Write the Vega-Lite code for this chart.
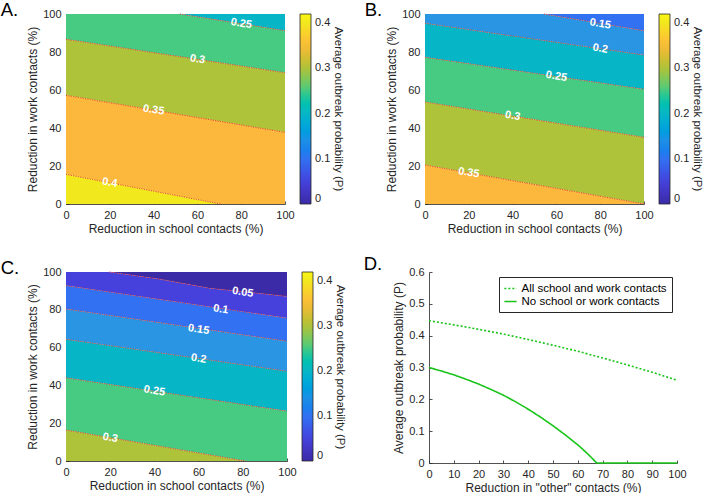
{
  "$schema": "https://vega.github.io/schema/vega-lite/v6.json",
  "padding": {"left": 0, "top": 0, "right": 0, "bottom": 0},
  "config": {
    "font": "Liberation Sans",
    "view": {"stroke": null},
    "axis": {"domainColor": "#262626", "domainWidth": 0.8, "tickColor": "#262626", "tickWidth": 0.8, "tickSize": -3, "labelPadding": 8, "labelColor": "#262626", "titleColor": "#262626", "labelFontSize": 11, "titleFontSize": 12, "titleFontWeight": "normal", "grid": false, "zindex": 1, "titlePadding": 3, "labelOverlap": false, "labelFlush": false, "labelBound": false},
    "title": {"anchor": "start", "frame": "bounds", "fontSize": 18.5, "fontWeight": "normal", "color": "#000000", "offset": 0}
  },
  "datasets": {
    "bands": [
      {"p": "A", "lev": 0.2, "x": 52, "lo": 100, "hi": 100},
      {"p": "A", "lev": 0.2, "x": 100, "lo": 91.2, "hi": 100},
      {"p": "A", "lev": 0.25, "x": 0, "lo": 86.7, "hi": 100},
      {"p": "A", "lev": 0.25, "x": 52, "lo": 77.5, "hi": 100},
      {"p": "A", "lev": 0.25, "x": 100, "lo": 69.1, "hi": 91.2},
      {"p": "A", "lev": 0.3, "x": 0, "lo": 57.2, "hi": 86.7},
      {"p": "A", "lev": 0.3, "x": 100, "lo": 37.7, "hi": 69.1},
      {"p": "A", "lev": 0.35, "x": 0, "lo": 15.6, "hi": 57.2},
      {"p": "A", "lev": 0.35, "x": 70.5, "lo": 0, "hi": 43.5},
      {"p": "A", "lev": 0.35, "x": 100, "lo": 0, "hi": 37.7},
      {"p": "A", "lev": 0.4, "x": 0, "lo": 0, "hi": 15.6},
      {"p": "A", "lev": 0.4, "x": 70.5, "lo": 0, "hi": 0},
      {"p": "B", "lev": 0.1, "x": 54.3, "lo": 100, "hi": 100},
      {"p": "B", "lev": 0.1, "x": 100, "lo": 91.2, "hi": 100},
      {"p": "B", "lev": 0.15, "x": 0, "lo": 95.1, "hi": 100},
      {"p": "B", "lev": 0.15, "x": 54.3, "lo": 86.0, "hi": 100},
      {"p": "B", "lev": 0.15, "x": 100, "lo": 78.4, "hi": 91.2},
      {"p": "B", "lev": 0.2, "x": 0, "lo": 77.2, "hi": 95.1},
      {"p": "B", "lev": 0.2, "x": 100, "lo": 60.4, "hi": 78.4},
      {"p": "B", "lev": 0.25, "x": 0, "lo": 53.7, "hi": 77.2},
      {"p": "B", "lev": 0.25, "x": 100, "lo": 35.1, "hi": 60.4},
      {"p": "B", "lev": 0.3, "x": 0, "lo": 20.5, "hi": 53.7},
      {"p": "B", "lev": 0.3, "x": 100, "lo": 0, "hi": 35.1},
      {"p": "B", "lev": 0.35, "x": 0, "lo": 0, "hi": 20.5},
      {"p": "B", "lev": 0.35, "x": 100, "lo": 0, "hi": 0},
      {"p": "C", "lev": 0, "x": 19.6, "lo": 100, "hi": 100},
      {"p": "C", "lev": 0, "x": 42, "lo": 96.3, "hi": 100},
      {"p": "C", "lev": 0, "x": 65, "lo": 91.4, "hi": 100},
      {"p": "C", "lev": 0, "x": 80, "lo": 89.6, "hi": 100},
      {"p": "C", "lev": 0, "x": 100, "lo": 87.1, "hi": 100},
      {"p": "C", "lev": 0.05, "x": 0, "lo": 92.8, "hi": 100},
      {"p": "C", "lev": 0.05, "x": 19.6, "lo": 89.4, "hi": 100},
      {"p": "C", "lev": 0.05, "x": 42, "lo": 85.6, "hi": 96.3},
      {"p": "C", "lev": 0.05, "x": 65, "lo": 81.6, "hi": 91.4},
      {"p": "C", "lev": 0.05, "x": 80, "lo": 79.0, "hi": 89.6},
      {"p": "C", "lev": 0.05, "x": 100, "lo": 75.6, "hi": 87.1},
      {"p": "C", "lev": 0.1, "x": 0, "lo": 80.4, "hi": 92.8},
      {"p": "C", "lev": 0.1, "x": 100, "lo": 63.4, "hi": 75.6},
      {"p": "C", "lev": 0.15, "x": 0, "lo": 64.4, "hi": 80.4},
      {"p": "C", "lev": 0.15, "x": 100, "lo": 47.5, "hi": 63.4},
      {"p": "C", "lev": 0.2, "x": 0, "lo": 44, "hi": 64.4},
      {"p": "C", "lev": 0.2, "x": 100, "lo": 26.4, "hi": 47.5},
      {"p": "C", "lev": 0.25, "x": 0, "lo": 16.4, "hi": 44},
      {"p": "C", "lev": 0.25, "x": 81, "lo": 0, "hi": 29.7},
      {"p": "C", "lev": 0.25, "x": 100, "lo": 0, "hi": 26.4},
      {"p": "C", "lev": 0.3, "x": 0, "lo": 0, "hi": 16.4},
      {"p": "C", "lev": 0.3, "x": 81, "lo": 0, "hi": 0}
    ],
    "lines": [
      {"p": "A", "lev": 0.25, "x": 52, "y": 100},
      {"p": "A", "lev": 0.25, "x": 100, "y": 91.2},
      {"p": "A", "lev": 0.3, "x": 0, "y": 86.7},
      {"p": "A", "lev": 0.3, "x": 100, "y": 69.1},
      {"p": "A", "lev": 0.35, "x": 0, "y": 57.2},
      {"p": "A", "lev": 0.35, "x": 100, "y": 37.7},
      {"p": "A", "lev": 0.4, "x": 0, "y": 15.6},
      {"p": "A", "lev": 0.4, "x": 70.5, "y": 0},
      {"p": "B", "lev": 0.15, "x": 54.3, "y": 100},
      {"p": "B", "lev": 0.15, "x": 100, "y": 91.2},
      {"p": "B", "lev": 0.2, "x": 0, "y": 95.1},
      {"p": "B", "lev": 0.2, "x": 100, "y": 78.4},
      {"p": "B", "lev": 0.25, "x": 0, "y": 77.2},
      {"p": "B", "lev": 0.25, "x": 100, "y": 60.4},
      {"p": "B", "lev": 0.3, "x": 0, "y": 53.7},
      {"p": "B", "lev": 0.3, "x": 100, "y": 35.1},
      {"p": "B", "lev": 0.35, "x": 0, "y": 20.5},
      {"p": "B", "lev": 0.35, "x": 100, "y": 0},
      {"p": "C", "lev": 0.05, "x": 19.6, "y": 100},
      {"p": "C", "lev": 0.05, "x": 42, "y": 96.3},
      {"p": "C", "lev": 0.05, "x": 65, "y": 91.4},
      {"p": "C", "lev": 0.05, "x": 80, "y": 89.6},
      {"p": "C", "lev": 0.05, "x": 100, "y": 87.1},
      {"p": "C", "lev": 0.1, "x": 0, "y": 92.8},
      {"p": "C", "lev": 0.1, "x": 100, "y": 75.6},
      {"p": "C", "lev": 0.15, "x": 0, "y": 80.4},
      {"p": "C", "lev": 0.15, "x": 100, "y": 63.4},
      {"p": "C", "lev": 0.2, "x": 0, "y": 64.4},
      {"p": "C", "lev": 0.2, "x": 100, "y": 47.5},
      {"p": "C", "lev": 0.25, "x": 0, "y": 44},
      {"p": "C", "lev": 0.25, "x": 100, "y": 26.4},
      {"p": "C", "lev": 0.3, "x": 0, "y": 16.4},
      {"p": "C", "lev": 0.3, "x": 81, "y": 0}
    ],
    "labels": [
      {"p": "A", "x": 80, "y": 94.9, "t": "0.25"},
      {"p": "A", "x": 60, "y": 76.1, "t": "0.3"},
      {"p": "A", "x": 40, "y": 49.4, "t": "0.35"},
      {"p": "A", "x": 20, "y": 11.2, "t": "0.4"},
      {"p": "B", "x": 80, "y": 94.7, "t": "0.15"},
      {"p": "B", "x": 80, "y": 81.7, "t": "0.2"},
      {"p": "B", "x": 60, "y": 67.1, "t": "0.25"},
      {"p": "B", "x": 40, "y": 46.3, "t": "0.3"},
      {"p": "B", "x": 20, "y": 16.4, "t": "0.35"},
      {"p": "C", "x": 80, "y": 89.2, "t": "0.05"},
      {"p": "C", "x": 70, "y": 80.2, "t": "0.1"},
      {"p": "C", "x": 60, "y": 69.5, "t": "0.15"},
      {"p": "C", "x": 60, "y": 54.1, "t": "0.2"},
      {"p": "C", "x": 40, "y": 37.0, "t": "0.25"},
      {"p": "C", "x": 20, "y": 12.2, "t": "0.3"}
    ],
    "curves": [
      {"s": "All school and work contacts", "x": 0, "y": 0.447},
      {"s": "All school and work contacts", "x": 10, "y": 0.434},
      {"s": "All school and work contacts", "x": 20, "y": 0.420},
      {"s": "All school and work contacts", "x": 30, "y": 0.405},
      {"s": "All school and work contacts", "x": 40, "y": 0.388},
      {"s": "All school and work contacts", "x": 50, "y": 0.370},
      {"s": "All school and work contacts", "x": 60, "y": 0.351},
      {"s": "All school and work contacts", "x": 70, "y": 0.330},
      {"s": "All school and work contacts", "x": 80, "y": 0.308},
      {"s": "All school and work contacts", "x": 90, "y": 0.285},
      {"s": "All school and work contacts", "x": 100, "y": 0.260},
      {"s": "No school or work contacts", "x": 0, "y": 0.300},
      {"s": "No school or work contacts", "x": 5, "y": 0.289},
      {"s": "No school or work contacts", "x": 10, "y": 0.277},
      {"s": "No school or work contacts", "x": 15, "y": 0.263},
      {"s": "No school or work contacts", "x": 20, "y": 0.248},
      {"s": "No school or work contacts", "x": 25, "y": 0.231},
      {"s": "No school or work contacts", "x": 30, "y": 0.213},
      {"s": "No school or work contacts", "x": 35, "y": 0.192},
      {"s": "No school or work contacts", "x": 40, "y": 0.169},
      {"s": "No school or work contacts", "x": 45, "y": 0.144},
      {"s": "No school or work contacts", "x": 50, "y": 0.117},
      {"s": "No school or work contacts", "x": 55, "y": 0.088},
      {"s": "No school or work contacts", "x": 60, "y": 0.057},
      {"s": "No school or work contacts", "x": 63, "y": 0.036},
      {"s": "No school or work contacts", "x": 65, "y": 0.021},
      {"s": "No school or work contacts", "x": 67, "y": 0.005},
      {"s": "No school or work contacts", "x": 67.6, "y": 0},
      {"s": "No school or work contacts", "x": 70, "y": 0},
      {"s": "No school or work contacts", "x": 80, "y": 0},
      {"s": "No school or work contacts", "x": 90, "y": 0},
      {"s": "No school or work contacts", "x": 100, "y": 0}
    ]
  },
  "spacing": 20,
  "vconcat": [
    {
      "spacing": 19,
      "resolve": {"scale": {"color": "independent"}, "legend": {"color": "independent"}},
      "hconcat": [
        {
          "width": 219, "height": 190,
          "title": {"text": "A.", "dx": -26, "dy": 15},
          "layer": [
            {"data": {"name": "bands"}, "transform": [{"filter": "datum.p == 'A'"}],
             "mark": {"type": "area", "interpolate": "linear"},
             "encoding": {
               "x": {"field": "x", "type": "quantitative", "scale": {"domain": [0, 100], "nice": false}, "axis": {"values": [0, 20, 40, 60, 80, 100], "title": "Reduction in school contacts (%)"}},
               "y": {"field": "lo", "type": "quantitative", "stack": null, "scale": {"domain": [0, 100], "nice": false}, "axis": {"values": [0, 20, 40, 60, 80, 100], "title": "Reduction in work contacts (%)"}},
               "y2": {"field": "hi"},
               "color": {"field": "lev", "type": "quantitative",
                 "scale": {"domain": [0, 0.05, 0.1, 0.15, 0.2, 0.25, 0.3, 0.35, 0.4, 0.42], "range": ["#3b2ba6", "#4640dd", "#3271f1", "#2a95e2", "#07b6c6", "#47ca82", "#aec23a", "#fbb83c", "#f2e81e", "#f9f514"]},
                 "legend": {"title": "Average outbreak probability (P)", "orient": "right", "offset": 13, "gradientLength": 190, "gradientThickness": 11, "values": [0, 0.1, 0.2, 0.3, 0.4], "format": ".1~f", "labelFontSize": 11, "labelColor": "#262626", "labelOffset": 4, "titleFontSize": 11.5, "titleFontWeight": "normal", "titleColor": "#262626", "titleOrient": "right", "titleAngle": 270, "titleAnchor": "middle", "titlePadding": 3, "gradientStrokeColor": "#262626", "gradientStrokeWidth": 0.8}}
             }},
            {"data": {"name": "lines"}, "transform": [{"filter": "datum.p == 'A'"}],
             "mark": {"type": "line", "color": "#e8382a", "strokeWidth": 0.9, "strokeDash": [1.2, 1.2]},
             "encoding": {"x": {"field": "x", "type": "quantitative", "axis": {"values": [0, 20, 40, 60, 80, 100], "title": "Reduction in school contacts (%)"}}, "y": {"field": "y", "type": "quantitative", "axis": {"values": [0, 20, 40, 60, 80, 100], "title": "Reduction in work contacts (%)"}}, "detail": {"field": "lev", "type": "nominal"}}},
            {"data": {"name": "labels"}, "transform": [{"filter": "datum.p == 'A'"}],
             "mark": {"type": "text", "color": "white", "fontWeight": "bold", "fontSize": 11, "angle": 9},
             "encoding": {"x": {"field": "x", "type": "quantitative", "axis": {"values": [0, 20, 40, 60, 80, 100], "title": "Reduction in school contacts (%)"}}, "y": {"field": "y", "type": "quantitative", "axis": {"values": [0, 20, 40, 60, 80, 100], "title": "Reduction in work contacts (%)"}}, "text": {"field": "t"}}}
          ]
        },
        {
          "width": 219, "height": 190,
          "title": {"text": "B.", "dx": -21, "dy": 15},
          "layer": [
            {"data": {"name": "bands"}, "transform": [{"filter": "datum.p == 'B'"}],
             "mark": {"type": "area", "interpolate": "linear"},
             "encoding": {
               "x": {"field": "x", "type": "quantitative", "scale": {"domain": [0, 100], "nice": false}, "axis": {"values": [0, 20, 40, 60, 80, 100], "title": "Reduction in school contacts (%)"}},
               "y": {"field": "lo", "type": "quantitative", "stack": null, "scale": {"domain": [0, 100], "nice": false}, "axis": {"values": [0, 20, 40, 60, 80, 100], "title": "Reduction in work contacts (%)"}},
               "y2": {"field": "hi"},
               "color": {"field": "lev", "type": "quantitative",
                 "scale": {"domain": [0, 0.05, 0.1, 0.15, 0.2, 0.25, 0.3, 0.35, 0.4, 0.42], "range": ["#3b2ba6", "#4640dd", "#3271f1", "#2a95e2", "#07b6c6", "#47ca82", "#aec23a", "#fbb83c", "#f2e81e", "#f9f514"]},
                 "legend": {"title": "Average outbreak probability (P)", "orient": "right", "offset": 13, "gradientLength": 190, "gradientThickness": 11, "values": [0, 0.1, 0.2, 0.3, 0.4], "format": ".1~f", "labelFontSize": 11, "labelColor": "#262626", "labelOffset": 4, "titleFontSize": 11.5, "titleFontWeight": "normal", "titleColor": "#262626", "titleOrient": "right", "titleAngle": 270, "titleAnchor": "middle", "titlePadding": 3, "gradientStrokeColor": "#262626", "gradientStrokeWidth": 0.8}}
             }},
            {"data": {"name": "lines"}, "transform": [{"filter": "datum.p == 'B'"}],
             "mark": {"type": "line", "color": "#e8382a", "strokeWidth": 0.9, "strokeDash": [1.2, 1.2]},
             "encoding": {"x": {"field": "x", "type": "quantitative", "axis": {"values": [0, 20, 40, 60, 80, 100], "title": "Reduction in school contacts (%)"}}, "y": {"field": "y", "type": "quantitative", "axis": {"values": [0, 20, 40, 60, 80, 100], "title": "Reduction in work contacts (%)"}}, "detail": {"field": "lev", "type": "nominal"}}},
            {"data": {"name": "labels"}, "transform": [{"filter": "datum.p == 'B'"}],
             "mark": {"type": "text", "color": "white", "fontWeight": "bold", "fontSize": 11, "angle": 9},
             "encoding": {"x": {"field": "x", "type": "quantitative", "axis": {"values": [0, 20, 40, 60, 80, 100], "title": "Reduction in school contacts (%)"}}, "y": {"field": "y", "type": "quantitative", "axis": {"values": [0, 20, 40, 60, 80, 100], "title": "Reduction in work contacts (%)"}}, "text": {"field": "t"}}}
          ]
        }
      ]
    },
    {
      "spacing": 16,
      "resolve": {"scale": {"color": "independent", "strokeDash": "independent"}, "legend": {"color": "independent", "strokeDash": "independent"}},
      "hconcat": [
        {
          "width": 221, "height": 189,
          "title": {"text": "C.", "dx": -26, "dy": 15},
          "layer": [
            {"data": {"name": "bands"}, "transform": [{"filter": "datum.p == 'C'"}],
             "mark": {"type": "area", "interpolate": "linear"},
             "encoding": {
               "x": {"field": "x", "type": "quantitative", "scale": {"domain": [0, 100], "nice": false}, "axis": {"values": [0, 20, 40, 60, 80, 100], "title": "Reduction in school contacts (%)"}},
               "y": {"field": "lo", "type": "quantitative", "stack": null, "scale": {"domain": [0, 100], "nice": false}, "axis": {"values": [0, 20, 40, 60, 80, 100], "title": "Reduction in work contacts (%)"}},
               "y2": {"field": "hi"},
               "color": {"field": "lev", "type": "quantitative",
                 "scale": {"domain": [0, 0.05, 0.1, 0.15, 0.2, 0.25, 0.3, 0.35, 0.4, 0.42], "range": ["#3b2ba6", "#4640dd", "#3271f1", "#2a95e2", "#07b6c6", "#47ca82", "#aec23a", "#fbb83c", "#f2e81e", "#f9f514"]},
                 "legend": {"title": "Average outbreak probability (P)", "orient": "right", "offset": 13, "gradientLength": 189, "gradientThickness": 11, "values": [0, 0.1, 0.2, 0.3, 0.4], "format": ".1~f", "labelFontSize": 11, "labelColor": "#262626", "labelOffset": 4, "titleFontSize": 11.5, "titleFontWeight": "normal", "titleColor": "#262626", "titleOrient": "right", "titleAngle": 270, "titleAnchor": "middle", "titlePadding": 3, "gradientStrokeColor": "#262626", "gradientStrokeWidth": 0.8}}
             }},
            {"data": {"name": "lines"}, "transform": [{"filter": "datum.p == 'C'"}],
             "mark": {"type": "line", "color": "#e8382a", "strokeWidth": 0.9, "strokeDash": [1.2, 1.2]},
             "encoding": {"x": {"field": "x", "type": "quantitative", "axis": {"values": [0, 20, 40, 60, 80, 100], "title": "Reduction in school contacts (%)"}}, "y": {"field": "y", "type": "quantitative", "axis": {"values": [0, 20, 40, 60, 80, 100], "title": "Reduction in work contacts (%)"}}, "detail": {"field": "lev", "type": "nominal"}}},
            {"data": {"name": "labels"}, "transform": [{"filter": "datum.p == 'C'"}],
             "mark": {"type": "text", "color": "white", "fontWeight": "bold", "fontSize": 11, "angle": 9},
             "encoding": {"x": {"field": "x", "type": "quantitative", "axis": {"values": [0, 20, 40, 60, 80, 100], "title": "Reduction in school contacts (%)"}}, "y": {"field": "y", "type": "quantitative", "axis": {"values": [0, 20, 40, 60, 80, 100], "title": "Reduction in work contacts (%)"}}, "text": {"field": "t"}}}
          ]
        },
        {
          "width": 248, "height": 191,
          "title": {"text": "D.", "dx": -29, "dy": 11},
          "data": {"name": "curves"},
          "mark": {"type": "line", "color": "#19c419", "strokeWidth": 1.6},
          "encoding": {
            "x": {"field": "x", "type": "quantitative", "scale": {"domain": [0, 100], "nice": false}, "axis": {"values": [0, 10, 20, 30, 40, 50, 60, 70, 80, 90, 100], "title": "Reduction in \"other\" contacts (%)"}},
            "y": {"field": "y", "type": "quantitative", "scale": {"domain": [0, 0.6], "nice": false}, "axis": {"values": [0, 0.1, 0.2, 0.3, 0.4, 0.5, 0.6], "format": ".1~f", "title": "Average outbreak probability (P)"}},
            "strokeDash": {"field": "s", "type": "nominal",
              "scale": {"domain": ["All school and work contacts", "No school or work contacts"], "range": [[2, 2], [1, 0]]},
              "legend": {"orient": "top-right", "offset": 5, "title": null, "strokeColor": "#262626", "fillColor": "white", "padding": 4.5, "labelFontSize": 11.5, "labelColor": "#000000", "symbolType": "stroke", "symbolStrokeColor": "#19c419", "symbolStrokeWidth": 1.6, "symbolSize": 150, "rowPadding": 0}}
          }
        }
      ]
    }
  ]
}
